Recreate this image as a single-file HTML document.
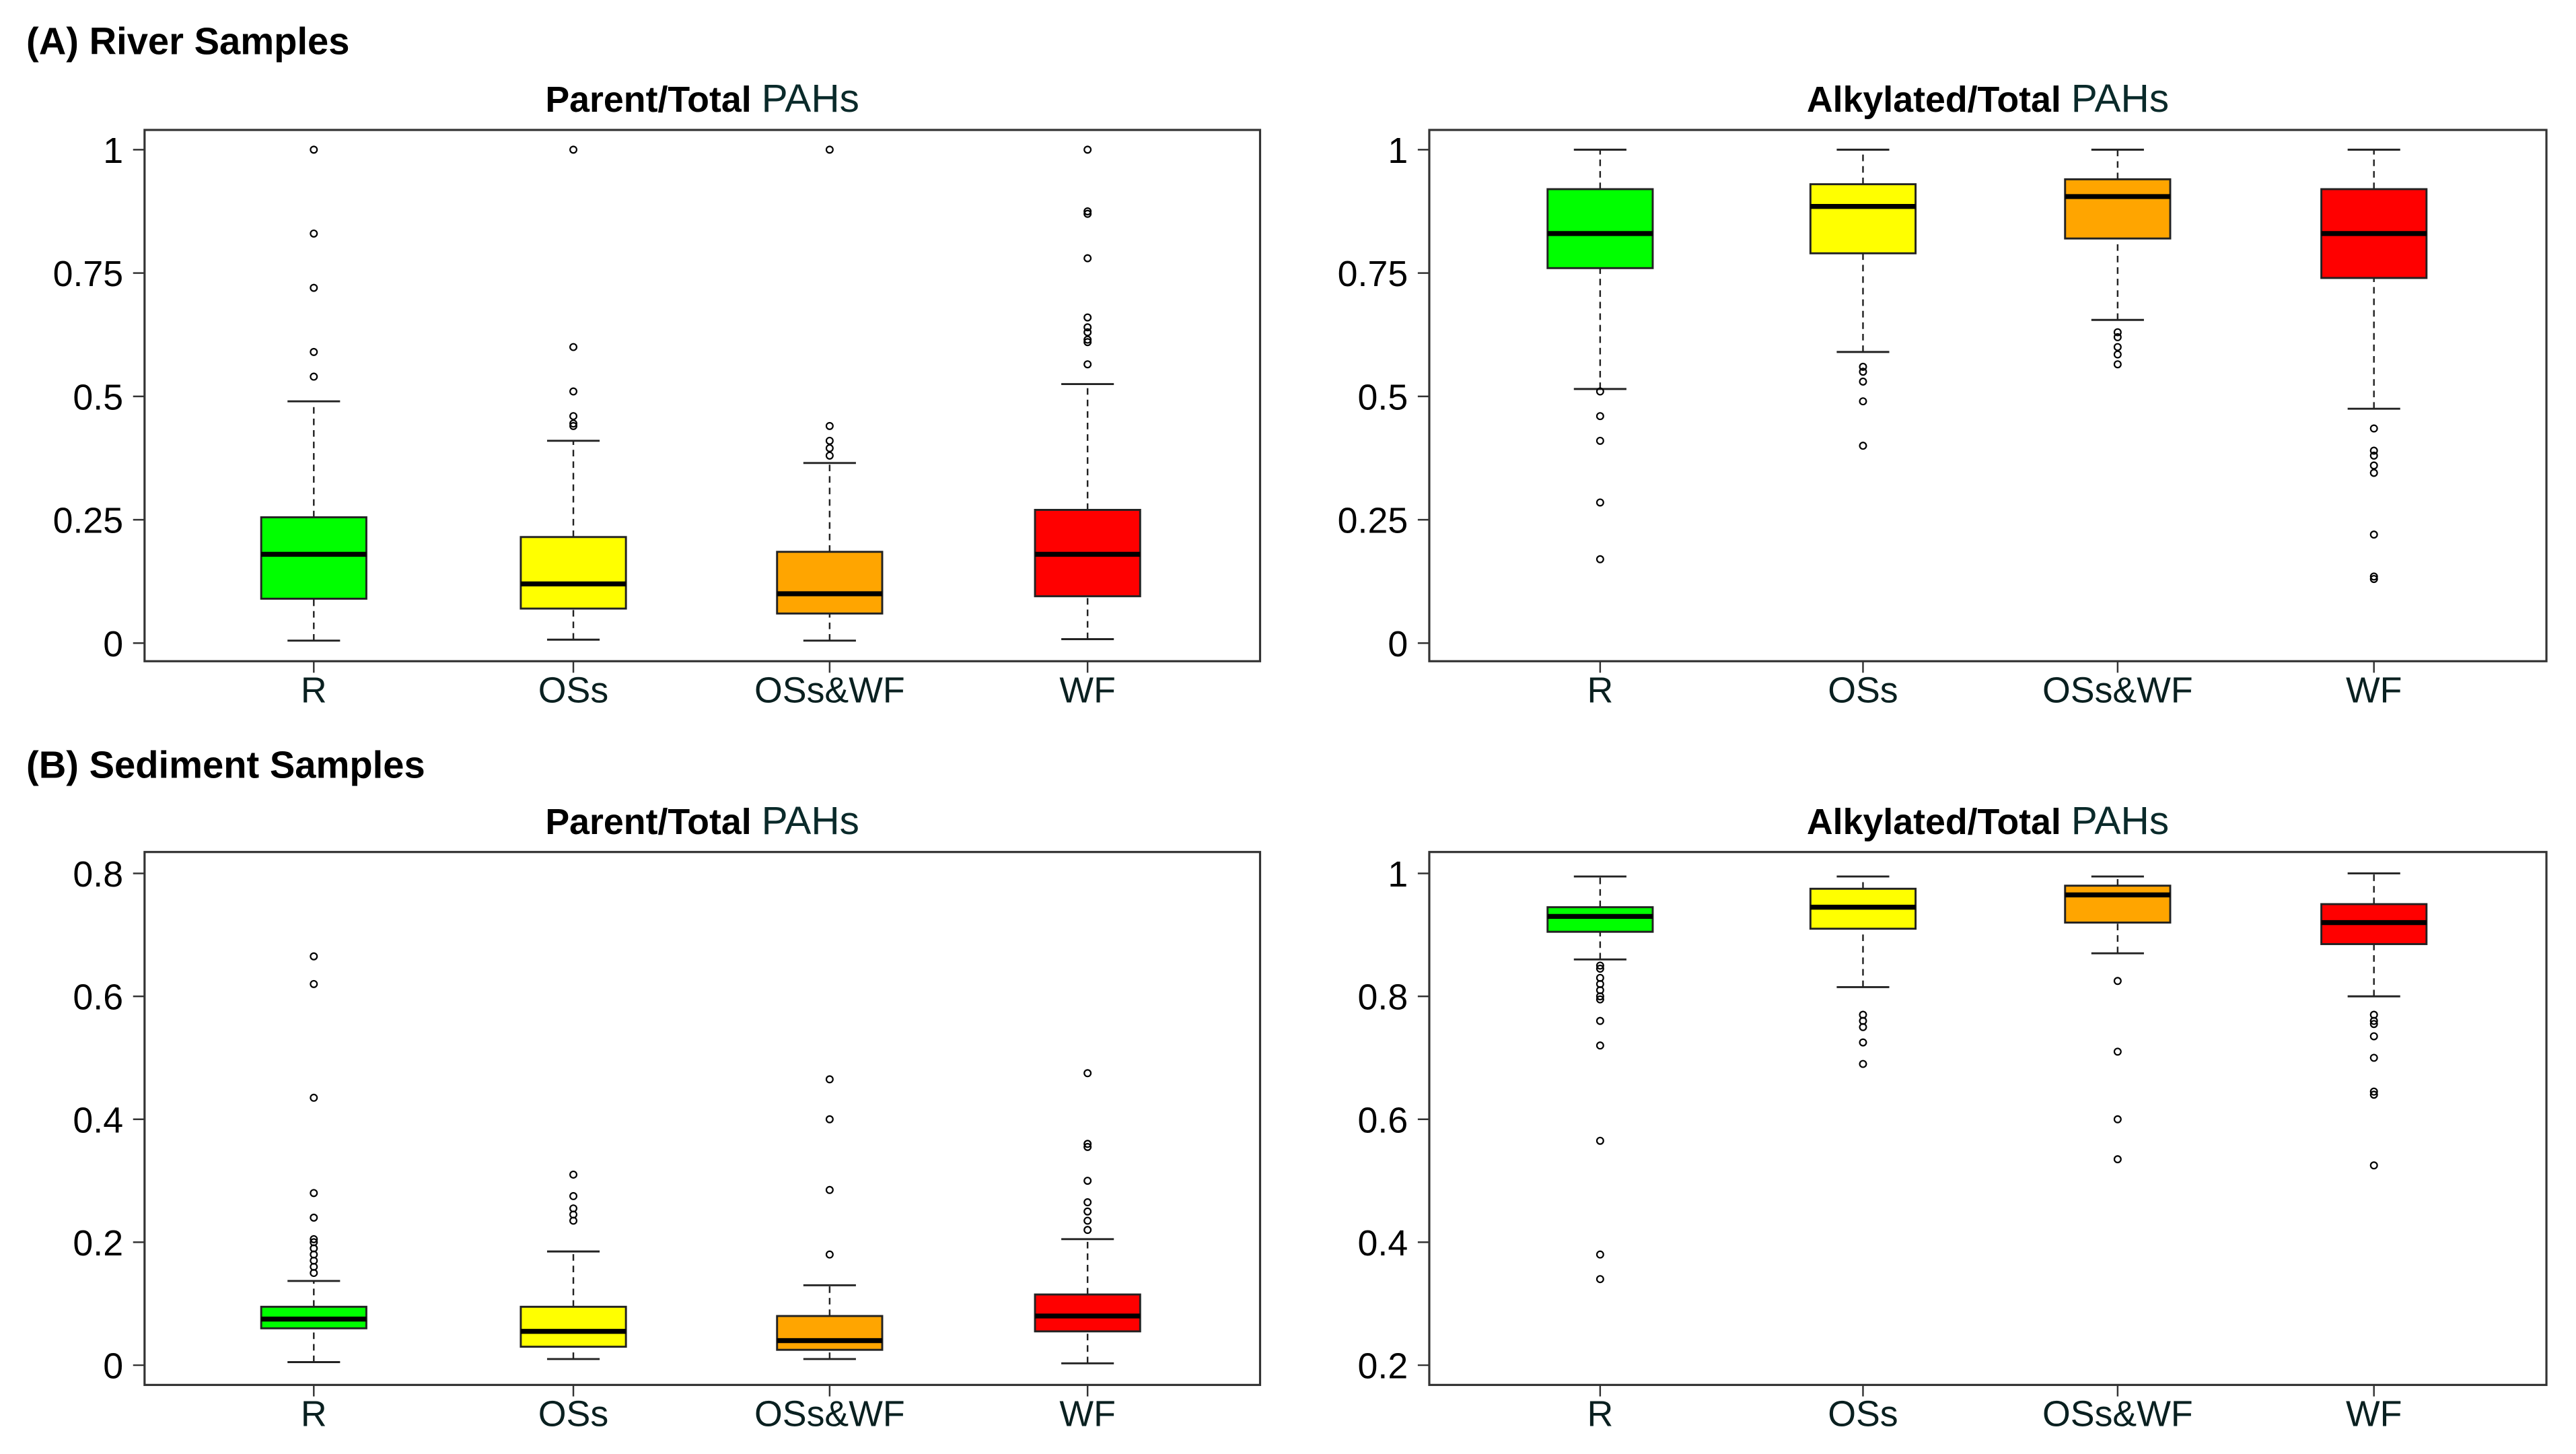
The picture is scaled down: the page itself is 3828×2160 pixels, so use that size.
<!DOCTYPE html>
<html><head><meta charset="utf-8"><style>
html,body{margin:0;padding:0;background:#fff;}
svg{display:block;}
</style></head><body>
<svg id="fig" width="3828" height="2160" viewBox="0 0 1568 884" preserveAspectRatio="none" xmlns="http://www.w3.org/2000/svg" font-family="Liberation Sans, sans-serif">
<text x="16" y="33" font-size="23" font-weight="bold">(A) River Samples</text>
<text x="16" y="473" font-size="23" font-weight="bold">(B) Sediment Samples</text>
</svg>
<script>
const categories = ["R","OSs","OSs&WF","WF"];
const colors = ["#00ff00","#ffff00","#ffa500","#ff0000"];
// each stat: [whiskerLow, q1, median, q3, whiskerHigh]
const riverParentStats = [[0.005,0.09,0.18,0.255,0.49],[0.007,0.07,0.12,0.215,0.41],[0.005,0.06,0.10,0.185,0.365],[0.008,0.095,0.18,0.27,0.525]];
const riverParentOutliers = [[0.54,0.59,0.72,0.83,1.0],[0.44,0.445,0.46,0.51,0.6,1.0],[0.38,0.395,0.41,0.44,1.0],[0.565,0.61,0.615,0.63,0.64,0.66,0.78,0.87,0.875,1.0]];
const riverAlkylStats = [[0.515,0.76,0.83,0.92,1.0],[0.59,0.79,0.885,0.93,1.0],[0.655,0.82,0.905,0.94,1.0],[0.475,0.74,0.83,0.92,1.0]];
const riverAlkylOutliers = [[0.17,0.285,0.41,0.46,0.51],[0.4,0.49,0.53,0.55,0.56],[0.565,0.585,0.6,0.62,0.63],[0.13,0.135,0.22,0.345,0.36,0.38,0.39,0.435]];
const sedParentStats = [[0.005,0.06,0.075,0.095,0.137],[0.01,0.03,0.055,0.095,0.185],[0.01,0.025,0.04,0.08,0.13],[0.003,0.055,0.08,0.115,0.205]];
const sedParentOutliers = [[0.15,0.16,0.17,0.18,0.19,0.2,0.205,0.24,0.28,0.435,0.62,0.665],[0.235,0.245,0.255,0.275,0.31],[0.18,0.285,0.4,0.465],[0.22,0.235,0.25,0.265,0.3,0.355,0.36,0.475]];
const sedAlkylStats = [[0.86,0.905,0.93,0.945,0.995],[0.815,0.91,0.945,0.975,0.995],[0.87,0.92,0.965,0.98,0.995],[0.8,0.885,0.92,0.95,1.0]];
const sedAlkylOutliers = [[0.34,0.38,0.565,0.72,0.76,0.795,0.8,0.81,0.82,0.83,0.845,0.85],[0.69,0.725,0.75,0.76,0.77],[0.535,0.6,0.71,0.825],[0.525,0.64,0.645,0.7,0.735,0.755,0.76,0.77]];
const ticksRiver = [0,0.25,0.5,0.75,1];
const tickLabelsRiver = ["0","0.25","0.5","0.75","1"];
const ticksSedParent = [0,0.2,0.4,0.6,0.8];
const tickLabelsSedParent = ["0","0.2","0.4","0.6","0.8"];
const ticksSedAlkyl = [0.2,0.4,0.6,0.8,1];
const tickLabelsSedAlkyl = ["0.2","0.4","0.6","0.8","1"];

const NS="http://www.w3.org/2000/svg";
const svg=document.getElementById('fig');
function mk(tag,attrs,parent){const e=document.createElementNS(NS,tag);for(const k in attrs)e.setAttribute(k,attrs[k]);(parent||svg).appendChild(e);return e;}

function panel(o){
  const g=mk('g',{});
  
  
  const yScale=v=>o.yTop+(o.dMax-v)/(o.dMax-o.dMin)*(o.yBot-o.yTop);
  const xScale=i=>o.x0+o.catOff[i];
  const t=mk('text',{x:(o.bx1+o.bx2)/2,y:o.titleY,'font-size':22,'text-anchor':'middle'},g);
  
  
  const b=mk('tspan',{'font-weight':'bold'},t);b.textContent=o.titleBold+' ';
  const n=mk('tspan',{fill:'#0a2a2a','font-size':24},t);n.textContent='PAHs';
  const frame=mk('rect',{x:o.bx1,y:o.by1,width:o.bx2-o.bx1,height:o.by2-o.by1,fill:'none',stroke:'#333','stroke-width':1.3},g);
  
  
  o.ticks.forEach((v,i)=>{
    const y=yScale(v);
    mk('line',{x1:o.bx1-7,x2:o.bx1,y1:y,y2:y,stroke:'#333','stroke-width':1},g);
    const tl=mk('text',{x:o.bx1-13,y:y+8,'font-size':22,'text-anchor':'end'},g);
    
    
    tl.textContent=o.tickLabels[i];
  });
  categories.forEach((c,i)=>{
    const x=xScale(i);
    mk('line',{x1:x,x2:x,y1:o.by2,y2:o.by2+7,stroke:'#333','stroke-width':1},g);
    const xl=mk('text',{x:x,y:o.by2+25,'font-size':22,'text-anchor':'middle',fill:'#0a2020'},g);
    
    
    xl.textContent=c;
    const s=o.stats[i];const bw=64,cw=32;
    const bg=mk('g',{},g);
    
    
    mk('line',{x1:x,x2:x,y1:yScale(s[0]),y2:yScale(s[1]),stroke:'#222','stroke-width':1,'stroke-dasharray':'4,3'},bg);
    mk('line',{x1:x,x2:x,y1:yScale(s[3]),y2:yScale(s[4]),stroke:'#222','stroke-width':1,'stroke-dasharray':'4,3'},bg);
    mk('line',{x1:x-cw/2,x2:x+cw/2,y1:yScale(s[0]),y2:yScale(s[0]),stroke:'#222','stroke-width':1.2},bg);
    mk('line',{x1:x-cw/2,x2:x+cw/2,y1:yScale(s[4]),y2:yScale(s[4]),stroke:'#222','stroke-width':1.2},bg);
    mk('rect',{x:x-bw/2,y:yScale(s[3]),width:bw,height:yScale(s[1])-yScale(s[3]),fill:colors[i],stroke:'#222','stroke-width':1.2},bg);
    mk('line',{x1:x-bw/2,x2:x+bw/2,y1:yScale(s[2]),y2:yScale(s[2]),stroke:'#000','stroke-width':3},bg);
    o.outliers[i].forEach(v=>{
      const p=mk('circle',{cx:x,cy:yScale(v),r:2,fill:'none',stroke:'#000','stroke-width':0.9},bg);
      
      
    });
  });
}
const offL=[103,261,417,574];
const offR=[104,264,419,575];
panel({name:'river-parent-panel',titleBold:'Parent/Total',titleY:68,bx1:88,bx2:767,by1:79,by2:402,yTop:91,yBot:391,dMin:0,dMax:1,x0:88,catOff:offL,ticks:ticksRiver,tickLabels:tickLabelsRiver,stats:riverParentStats,outliers:riverParentOutliers});
panel({name:'river-alkylated-panel',titleBold:'Alkylated/Total',titleY:68,bx1:870,bx2:1550,by1:79,by2:402,yTop:91,yBot:391,dMin:0,dMax:1,x0:870,catOff:offR,ticks:ticksRiver,tickLabels:tickLabelsRiver,stats:riverAlkylStats,outliers:riverAlkylOutliers});
panel({name:'sediment-parent-panel',titleBold:'Parent/Total',titleY:507,bx1:88,bx2:767,by1:518,by2:842,yTop:531,yBot:830,dMin:0,dMax:0.8,x0:88,catOff:offL,ticks:ticksSedParent,tickLabels:tickLabelsSedParent,stats:sedParentStats,outliers:sedParentOutliers});
panel({name:'sediment-alkylated-panel',titleBold:'Alkylated/Total',titleY:507,bx1:870,bx2:1550,by1:518,by2:842,yTop:531,yBot:830,dMin:0.2,dMax:1,x0:870,catOff:offR,ticks:ticksSedAlkyl,tickLabels:tickLabelsSedAlkyl,stats:sedAlkylStats,outliers:sedAlkylOutliers});
</script>
</body></html>
